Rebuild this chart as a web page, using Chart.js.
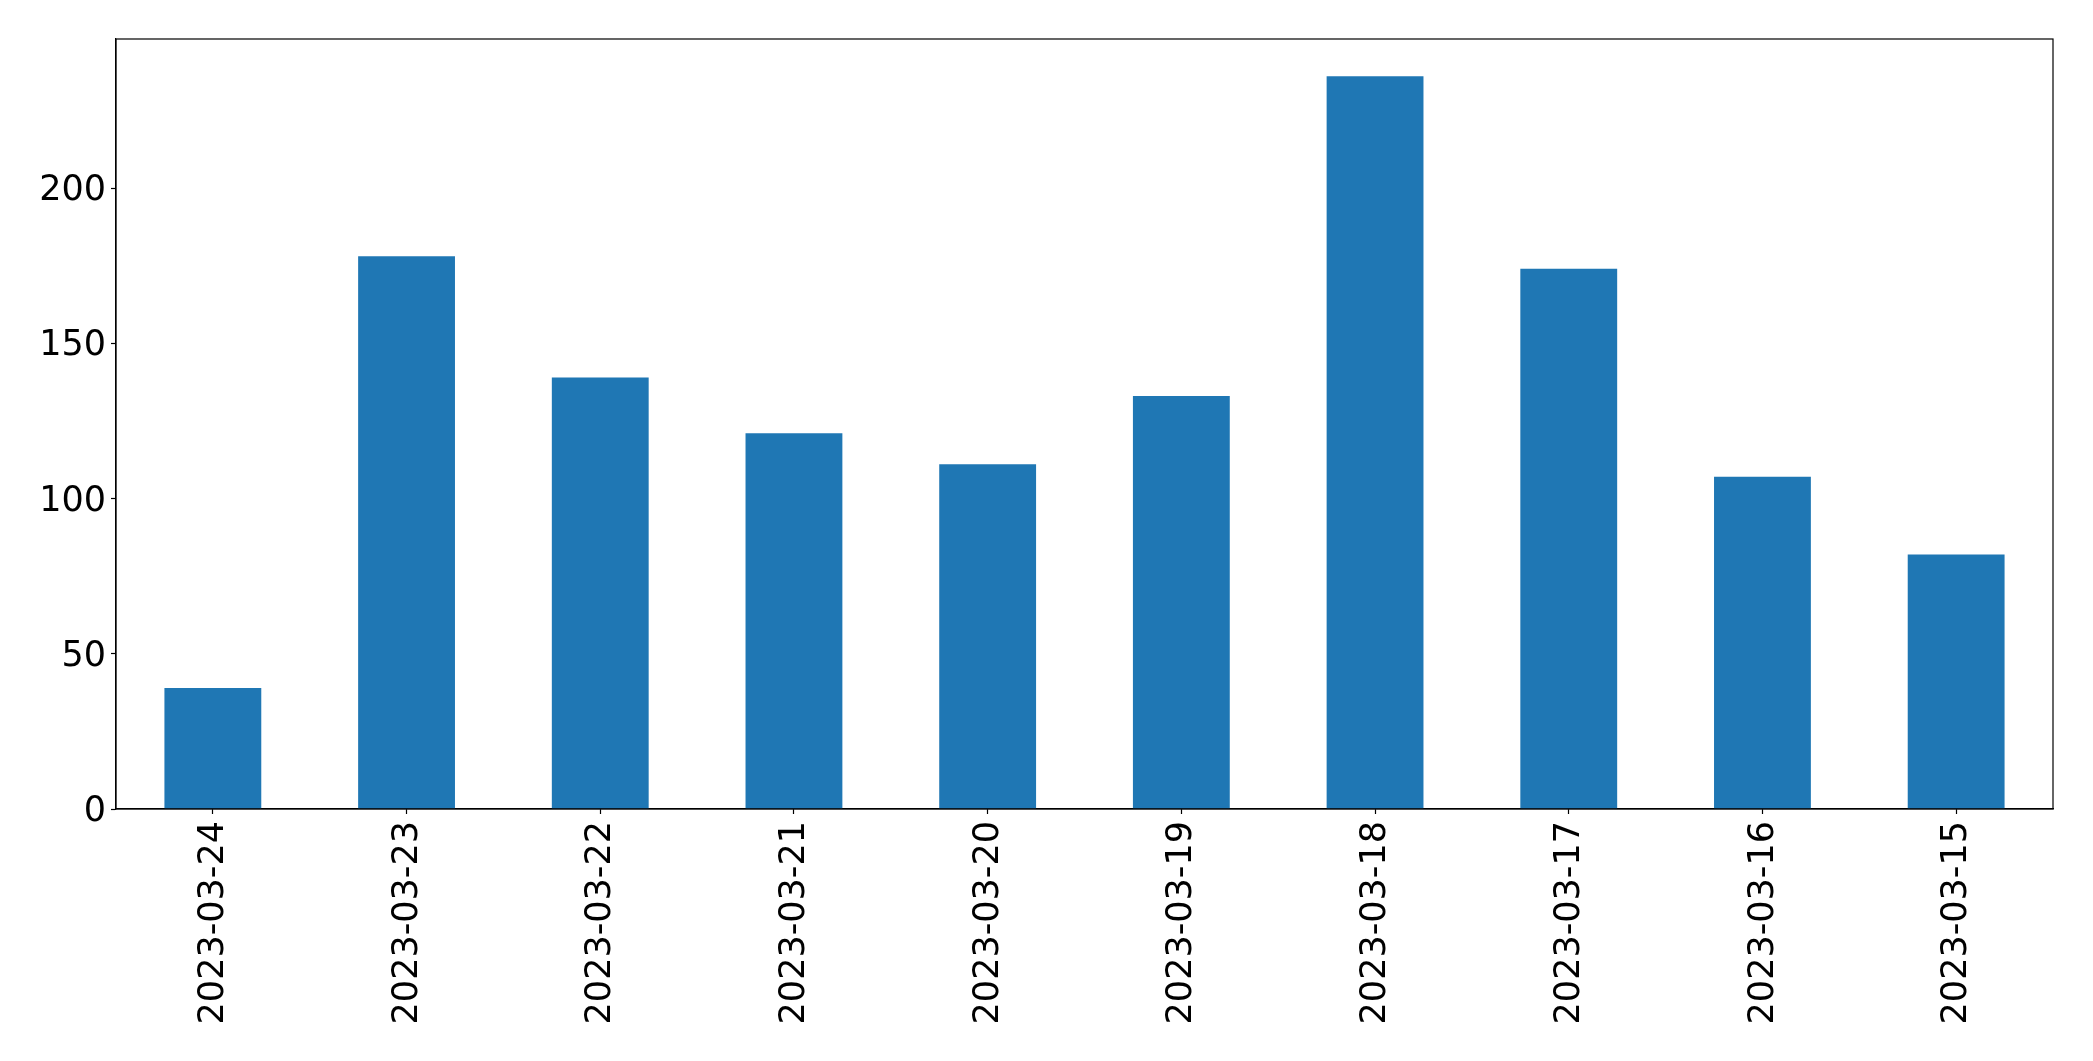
<!DOCTYPE html>
<html>
<head>
<meta charset="utf-8">
<script src="https://cdn.jsdelivr.net/npm/chart.js@4"></script>
<style>
  html, body { margin: 0; padding: 0; background: #ffffff; }
  #c { display: block; }
</style>
</head>
<body>
<canvas id="c" width="2093" height="1061"></canvas>
<script>
const categories = ['2023-03-24', '2023-03-23', '2023-03-22', '2023-03-21', '2023-03-20',
                    '2023-03-19', '2023-03-18', '2023-03-17', '2023-03-16', '2023-03-15'];
const values = [39, 178, 139, 121, 111, 133, 236, 174, 107, 82];
const yTicks = [0, 50, 100, 150, 200];
const yMax = 248;

const frame = {
  id: 'frame',
  afterDatasetsDraw(chart) {
    const a = chart.chartArea;
    const ctx = chart.ctx;
    ctx.save();
    ctx.strokeStyle = '#000000';
    ctx.lineWidth = 1.2;
    ctx.strokeRect(a.left, a.top, a.right - a.left, a.bottom - a.top);
    ctx.restore();
  }
};

const tickFont = { family: '"DejaVu Sans", sans-serif', size: 35 };

new Chart(document.getElementById('c'), {
  type: 'bar',
  data: {
    labels: categories,
    datasets: [{
      data: values,
      backgroundColor: '#1f77b4',
      borderWidth: 0,
      barPercentage: 0.5,
      categoryPercentage: 1.0
    }]
  },
  options: {
    responsive: false,
    devicePixelRatio: 1,
    animation: false,
    layout: { padding: { top: 39, right: 40, left: 0, bottom: 0 } },
    plugins: { legend: { display: false }, tooltip: { enabled: false } },
    scales: {
      x: {
        offset: true,
        grid: { display: true, offset: false, drawOnChartArea: false, drawTicks: true, tickLength: 5, tickColor: '#000000', tickWidth: 1.2 },
        border: { display: true, color: '#000000', width: 1.2 },
        ticks: { color: '#000000', font: tickFont, minRotation: 90, maxRotation: 90, autoSkip: false, padding: 7, labelOffset: 1 },
        afterFit(scale) { scale.height = 252; }
      },
      y: {
        min: 0,
        max: yMax,
        grid: { display: true, drawOnChartArea: false, drawTicks: true, tickLength: 5, tickColor: '#000000', tickWidth: 1.2 },
        border: { display: true, color: '#000000', width: 1.2 },
        ticks: { color: '#000000', font: tickFont, padding: 5, stepSize: 50, labelOffset: 3 },
        afterBuildTicks(scale) { scale.ticks = yTicks.map(v => ({ value: v })); },
        afterFit(scale) { scale.width = 116; }
      }
    }
  },
  plugins: [frame]
});
</script>
</body>
</html>
